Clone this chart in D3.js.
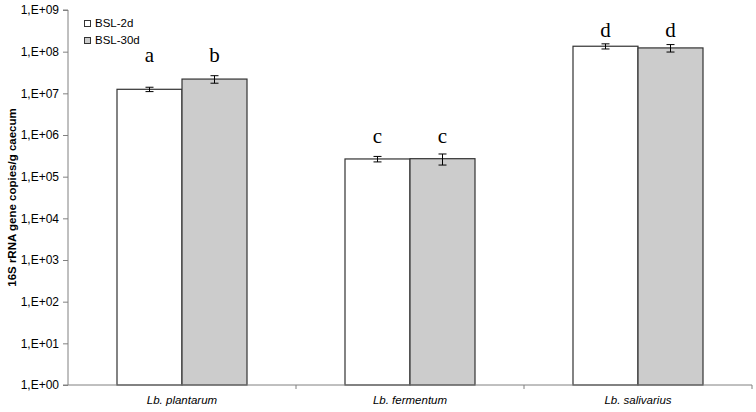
<!DOCTYPE html>
<html><head><meta charset="utf-8">
<script src="https://cdn.jsdelivr.net/npm/d3@7/dist/d3.min.js"></script>
<style>body{margin:0;background:#fff}svg{display:block}</style>
</head><body>
<svg id="c" width="756" height="412"></svg>
<script>
const categories = ["Lb. plantarum", "Lb. fermentum", "Lb. salivarius"];
const seriesNames = ["BSL-2d", "BSL-30d"];
const bsl2d = [1.25e7, 2.66e5, 1.35e8];
const bsl30d = [2.2e7, 2.7e5, 1.23e8];
const err2d = [0.15e7, 0.4e5, 0.19e8];
const err30d = [0.45e7, 0.8e5, 0.25e8];
const letters2d = ["a", "c", "d"];
const letters30d = ["b", "c", "d"];
const letterAt = [5.65e7, 6.4e5, 2.25e8];
const yTicks = [1e0, 1e1, 1e2, 1e3, 1e4, 1e5, 1e6, 1e7, 1e8, 1e9];
const yTitle = "16S rRNA gene copies/g caecum";

const svg = d3.select("#c");
const L = 68, R = 752, T = 10, B = 385;
const x = d3.scaleBand().domain(categories).range([L, R]).paddingInner(0).paddingOuter(0);
const inner = d3.scaleBand().domain(seriesNames).range([49, x.bandwidth() - 49]);
const y = d3.scaleLog().domain([1, 1e9]).range([B, T]);
const fills = ["#ffffff", "#cccccc"];

const rows = [];
categories.forEach((c, i) => {
  rows.push({c, s: seriesNames[0], v: bsl2d[i], e: err2d[i], l: letters2d[i], la: letterAt[i], f: fills[0]});
  rows.push({c, s: seriesNames[1], v: bsl30d[i], e: err30d[i], l: letters30d[i], la: letterAt[i], f: fills[1]});
});

// bars
svg.append("g").selectAll("rect").data(rows).join("rect")
  .attr("x", d => x(d.c) + inner(d.s))
  .attr("y", d => y(d.v))
  .attr("width", inner.bandwidth())
  .attr("height", d => B - y(d.v))
  .attr("fill", d => d.f)
  .attr("stroke", "#333")
  .attr("stroke-width", 1.2);

// error bars
const eg = svg.append("g").attr("stroke", "#000").attr("stroke-width", 1);
rows.forEach(d => {
  const cx = x(d.c) + inner(d.s) + inner.bandwidth() / 2;
  const y1 = y(d.v + d.e), y0 = y(d.v - d.e);
  eg.append("line").attr("x1", cx).attr("x2", cx).attr("y1", y1).attr("y2", y0);
  eg.append("line").attr("x1", cx - 4).attr("x2", cx + 4).attr("y1", y1).attr("y2", y1);
  eg.append("line").attr("x1", cx - 4).attr("x2", cx + 4).attr("y1", y0).attr("y2", y0);
});

// letters
svg.append("g").selectAll("text").data(rows).join("text")
  .attr("x", d => x(d.c) + inner(d.s) + inner.bandwidth() / 2)
  .attr("y", d => y(d.la))
  .attr("text-anchor", "middle")
  .attr("font-family", "Liberation Serif, Times New Roman, serif")
  .attr("font-size", 21)
  .text(d => d.l);

// y axis
const yAxis = d3.axisLeft(y).tickValues(yTicks).tickSize(5).tickPadding(4)
  .tickFormat(d => "1,E+" + String(Math.round(Math.log10(d))).padStart(2, "0"));
const yg = svg.append("g").attr("transform", `translate(${L},0)`).call(yAxis);
yg.select(".domain").attr("stroke", "#808080").attr("d", `M-5,${T}H0V${B}H-5`);
yg.selectAll(".tick line").attr("stroke", "#808080");
yg.selectAll(".tick text").attr("font-family", "Liberation Sans, Arial, sans-serif").attr("font-size", 12).attr("fill", "#000");

// x axis
const xg = svg.append("g").attr("transform", `translate(0,${B})`);
xg.append("line").attr("x1", L).attr("x2", R).attr("y1", 0).attr("y2", 0).attr("stroke", "#808080");
xg.selectAll("line.t").data(categories).join("line").attr("class", "t")
  .attr("x1", d => x(d) + x.bandwidth()).attr("x2", d => x(d) + x.bandwidth())
  .attr("y1", 0).attr("y2", 4).attr("stroke", "#808080");
xg.selectAll("text").data(categories).join("text")
  .attr("x", d => x(d) + x.bandwidth() / 2)
  .attr("y", 19)
  .attr("text-anchor", "middle")
  .attr("font-family", "Liberation Sans, Arial, sans-serif")
  .attr("font-size", 11.5)
  .attr("font-style", "italic")
  .text(d => d);

// y title
svg.append("text")
  .attr("transform", `translate(16,${(T + B) / 2}) rotate(-90)`)
  .attr("text-anchor", "middle")
  .attr("font-family", "Liberation Sans, Arial, sans-serif")
  .attr("font-size", 11.5)
  .attr("font-weight", "bold")
  .text(yTitle);

// legend
const lg = svg.append("g").attr("transform", "translate(84,20)");
seriesNames.forEach((s, i) => {
  const g = lg.append("g").attr("transform", `translate(0,${i * 17})`);
  g.append("rect").attr("x", 0.5).attr("y", 0.5).attr("width", 6).attr("height", 6)
    .attr("fill", fills[i]).attr("stroke", "#333").attr("stroke-width", 1);
  g.append("text").attr("x", 11).attr("y", 6.5)
    .attr("font-family", "Liberation Sans, Arial, sans-serif").attr("font-size", 11.5)
    .text(s);
});
</script>
</body></html>
